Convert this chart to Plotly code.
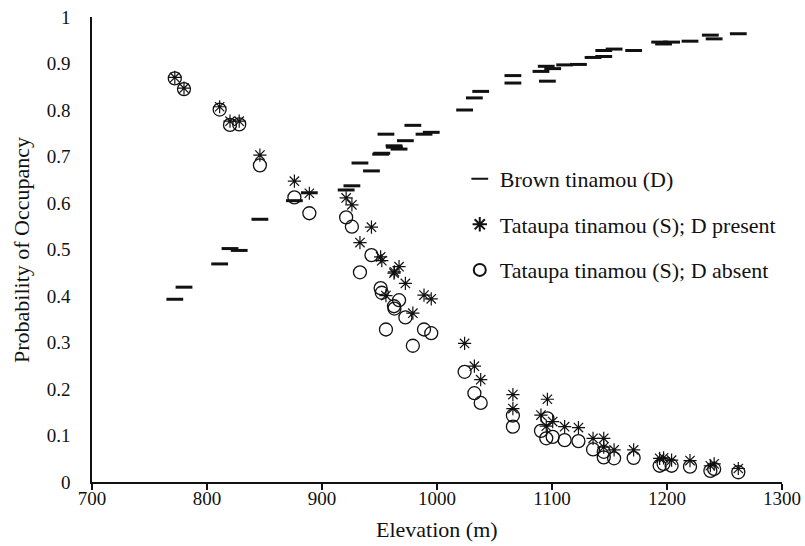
import plotly.graph_objects as go

elevation = [772, 780, 811, 820, 828, 846, 876, 889, 921, 926, 933, 943, 951, 952,
             955.6, 962.6, 963, 967, 972.5, 979, 988.7, 995, 1024, 1032.5, 1038,
             1066, 1066, 1090.4, 1095, 1096, 1100.6, 1111, 1123, 1135.7, 1145, 1145,
             1154, 1171, 1193.6, 1197, 1204, 1220, 1237.7, 1241, 1262]
brown_d = [0.393, 0.419, 0.469, 0.502, 0.498, 0.565, 0.605, 0.622, 0.628, 0.637,
           0.686, 0.669, 0.705, 0.707, 0.748, 0.723, 0.720, 0.716, 0.734, 0.767,
           0.748, 0.752, 0.800, 0.826, 0.840, 0.874, 0.858, 0.883, 0.894, 0.862,
           0.889, 0.897, 0.898, 0.913, 0.915, 0.928, 0.931, 0.928, 0.946, 0.942,
           0.946, 0.948, 0.961, 0.953, 0.964]
tataupa_present = [0.870, 0.847, 0.807, 0.776, 0.776, 0.703, 0.647, 0.621, 0.611, 0.596,
                   0.515, 0.548, 0.484, 0.476, 0.401, 0.449, 0.452, 0.463, 0.427, 0.363,
                   0.402, 0.394, 0.298, 0.249, 0.220, 0.188, 0.158, 0.144, 0.120, 0.178,
                   0.130, 0.119, 0.117, 0.094, 0.094, 0.075, 0.069, 0.069, 0.051, 0.052,
                   0.047, 0.046, 0.035, 0.039, 0.029]
tataupa_absent = [0.868, 0.845, 0.801, 0.768, 0.769, 0.681, 0.612, 0.578, 0.569, 0.549,
                  0.451, 0.488, 0.417, 0.407, 0.328, 0.378, 0.373, 0.391, 0.354, 0.293,
                  0.328, 0.320, 0.237, 0.191, 0.170, 0.143, 0.119, 0.110, 0.094, 0.137,
                  0.097, 0.090, 0.088, 0.070, 0.065, 0.053, 0.051, 0.052, 0.035, 0.039,
                  0.035, 0.033, 0.024, 0.028, 0.021]
x_ticks = [700, 800, 900, 1000, 1100, 1200, 1300]
y_ticks = [0, 0.1, 0.2, 0.3, 0.4, 0.5, 0.6, 0.7, 0.8, 0.9, 1]
y_tick_labels = ["0", "0.1", "0.2", "0.3", "0.4", "0.5", "0.6", "0.7", "0.8", "0.9", "1"]

FONT = "Liberation Serif"
INK = "#111111"

fig = go.Figure()
fig.add_trace(go.Scatter(
    x=elevation, y=brown_d, mode="markers", name="Brown tinamou (D)",
    legendgroup="a",
    marker=dict(symbol="line-ew-open", size=12, color=INK, line=dict(color=INK, width=3)),
))
fig.add_trace(go.Scatter(
    x=elevation, y=tataupa_present, mode="markers", name="Tataupa tinamou (S); D present",
    legendgroup="b",
    marker=dict(symbol="asterisk-open", size=11, color=INK, line=dict(color=INK, width=1.2)),
))
fig.add_trace(go.Scatter(
    x=elevation, y=tataupa_absent, mode="markers", name="Tataupa tinamou (S); D absent",
    legendgroup="c",
    marker=dict(symbol="circle-open", size=13, color=INK, line=dict(color=INK, width=1.3)),
))

fig.update_layout(
    width=805, height=546,
    margin=dict(l=92, r=23, t=17, b=64, autoexpand=False),
    paper_bgcolor="white", plot_bgcolor="white",
    font=dict(family=FONT, size=19, color=INK),
    showlegend=True,
    legend=dict(x=0.533, y=0.697, xanchor="left", yanchor="top",
                font=dict(family=FONT, size=22, color=INK),
                tracegroupgap=14, itemsizing="constant", itemwidth=30,
                bgcolor="rgba(0,0,0,0)"),
    xaxis=dict(range=[700, 1300], tickvals=x_ticks, ticktext=[str(v) for v in x_ticks],
               showgrid=False, zeroline=False, showline=True, linecolor=INK, linewidth=1.5,
               ticks="outside", ticklen=6, tickcolor=INK, tickwidth=1.5, automargin=False,
               ticklabelstandoff=-8, ticklabeloverflow="allow",
               tickfont=dict(family=FONT, size=19, color=INK)),
    yaxis=dict(range=[0, 1], tickvals=y_ticks, ticktext=y_tick_labels,
               showgrid=False, zeroline=False, showline=True, linecolor=INK, linewidth=1.5,
               ticks="", ticklabelstandoff=16, automargin=False, ticklabeloverflow="allow",
               tickfont=dict(family=FONT, size=19, color=INK)),
    annotations=[
        dict(text="Elevation (m)", xref="paper", yref="paper", x=0.5, y=-0.103,
             xanchor="center", yanchor="middle", showarrow=False,
             font=dict(family=FONT, size=22, color=INK)),
        dict(text="Probability of Occupancy", xref="paper", yref="paper", x=-0.1014, y=0.499,
             xanchor="center", yanchor="middle", showarrow=False, textangle=-90,
             font=dict(family=FONT, size=22, color=INK)),
    ],
)

fig.write_html("out.html", config={"displayModeBar": False},
               post_script="document.body.style.margin='0';document.body.style.overflow='hidden';")
